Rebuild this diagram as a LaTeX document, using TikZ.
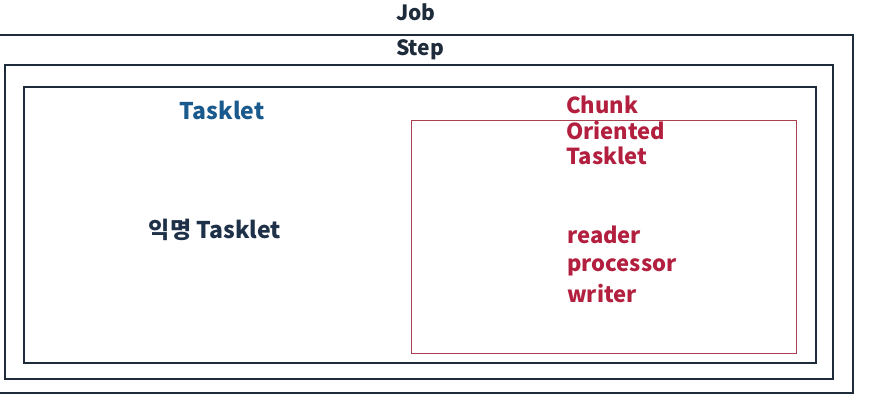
\documentclass[tikz,border=0pt]{standalone}
\usepackage{fontspec}
\setmainfont{Noto Sans CJK KR}
\usetikzlibrary{positioning}

\definecolor{framecol}{HTML}{1E2B3A}
\definecolor{taskblue}{HTML}{1A5A8C}
\definecolor{tasknavy}{HTML}{1F3148}
\definecolor{chunkred}{HTML}{B3203F}
\definecolor{chunkframe}{HTML}{A8404F}

\begin{document}
\begin{tikzpicture}[
      x=1pt, y=-1pt,
      frame/.style = {
          draw=framecol,
          line width=1.6pt,
          anchor=north west,
          inner sep=0pt,
        },
      chunkbox/.style = {
          draw=chunkframe,
          line width=0.9pt,
          anchor=north west,
          inner sep=0pt,
        },
      title/.style = {font=\fontsize{21}{24}\selectfont\bfseries, text=framecol, anchor=base},
      tasktext/.style = {font=\fontsize{23}{26}\selectfont\bfseries, anchor=base},
      chunktext/.style = {font=\fontsize{22}{25}\selectfont\bfseries, text=chunkred, anchor=base west, inner sep=0pt},
    ]

    \useasboundingbox[fill=white] (0,0) rectangle (872,415);

    \node[frame, minimum width=862, minimum height=358](job) at (-10,34) {};
    \node[frame, minimum width=828, minimum height=314](step) at (4,64) {};
    \node[frame, minimum width=792, minimum height=276](inner) at (23,86) {};
    \node[chunkbox, minimum width=385, minimum height=233](chunk) at (411,120) {};

    \node[title](jobname) at (416,20) {Job};
    \node[title](stepname) at (420,55) {Step};

    \node[tasktext, text=taskblue](tasklet) at (222,119) {Tasklet};
    \node[tasktext, text=tasknavy](anon) at (215,238) {익명 Tasklet};

    \node[chunktext](chunkline) at (566,113) {Chunk};
    \node[chunktext](oriented) at (566,139) {Oriented};
    \node[chunktext](chunktask) at (566,164) {Tasklet};

    \node[chunktext](reader) at (567,243) {reader};
    \node[chunktext](processor) at (567,271) {processor};
    \node[chunktext](writer) at (567,302) {writer};

  \end{tikzpicture}
\end{document}
